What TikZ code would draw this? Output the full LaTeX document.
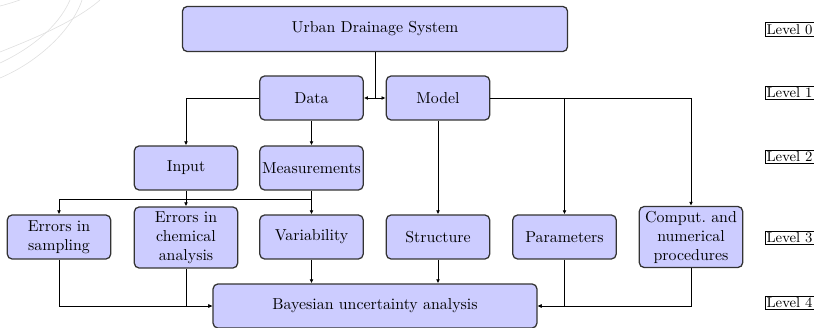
\documentclass[tikz,border=0pt]{standalone}
\usetikzlibrary{arrows.meta}

\tikzset{
  block/.style={draw=black!80, thick, fill=blue!20, rounded corners=3pt, align=center,
    minimum width=65.1pt, minimum height=27.7pt, inner sep=1pt},
  lvl/.style={draw, thin, inner sep=1pt, font=\small},
  link/.style={semithick, -{Latex[length=2.6pt,width=2.4pt]}},
}

\begin{document}
\begin{tikzpicture}[x=0.63pt,y=-0.63pt]
\useasboundingbox (0,0) rectangle (814,328);

% faint arcs in the corner
\draw[black!12] (0,6) .. controls (8,4) and (14,2) .. (20,0);
\draw[black!12] (0,52) .. controls (30,40) and (75,22) .. (100,0);
\draw[black!12] (0,63) .. controls (28,50) and (58,28) .. (70,0);
\draw[black!12] (0,78) .. controls (38,62) and (72,30) .. (82,0);

% level 0 and 1
\node[block, minimum width=242.6pt, minimum height=28.4pt] (uds) at (375,29) {Urban Drainage System};
\node[block] (data) at (311.5,98) {Data};
\node[block] (model) at (438,98) {Model};

% level 2
\node[block] (input) at (186,168) {Input};
\node[block] (meas) at (311.5,168) {Measurements};

% level 3
\node[block] (esamp) at (59,237) {Errors in\\sampling};
\node[block, minimum height=38.4pt] (echem) at (186,237.5) {Errors in\\chemical\\analysis};
\node[block] (var) at (311.5,237) {Variability};
\node[block] (struct) at (438,237) {Structure};
\node[block] (param) at (564.5,237) {Parameters};
\node[block, minimum height=38.4pt] (comput) at (691,237) {Comput.\ and\\numerical\\procedures};

% level 4
\node[block, minimum width=204pt] (bay) at (375,306) {Bayesian uncertainty analysis};

% levels on the right
\node[lvl] (l0) at (789.5,29.5) {Level 0};
\node[lvl] (l1) at (789.5,93) {Level 1};
\node[lvl] (l2) at (789.5,157) {Level 2};
\node[lvl] (l3) at (789.5,238) {Level 3};
\node[lvl] (l4) at (789.5,303) {Level 4};

% connectors
\coordinate (j0) at (375,98);
\coordinate (bar) at (311.5,199);
\draw[semithick] (uds) -- (j0);
\draw[link] (j0) -- (data.east);
\draw[link] (j0) -- (model.west);
\draw[link] (data.west) -| (input.north);
\draw[link] (data) -- (meas);
\draw[link] (model) -- (struct);
\draw[link] (model.east) -| (param.north);
\draw[link] (model.east) -| (comput.north);
\draw[link] (input) -- (echem);
\draw[link] (meas) -- (var);
\draw[link] (bar) -| (esamp.north);
\draw[link] (esamp.south) |- (bay.west);
\draw[link] (echem.south) |- (bay.west);
\draw[link] (var.south) -- (var.south |- bay.north);
\draw[link] (struct.south) -- (struct.south |- bay.north);
\draw[link] (param.south) |- (bay.east);
\draw[link] (comput.south) |- (bay.east);
\end{tikzpicture}
\end{document}
